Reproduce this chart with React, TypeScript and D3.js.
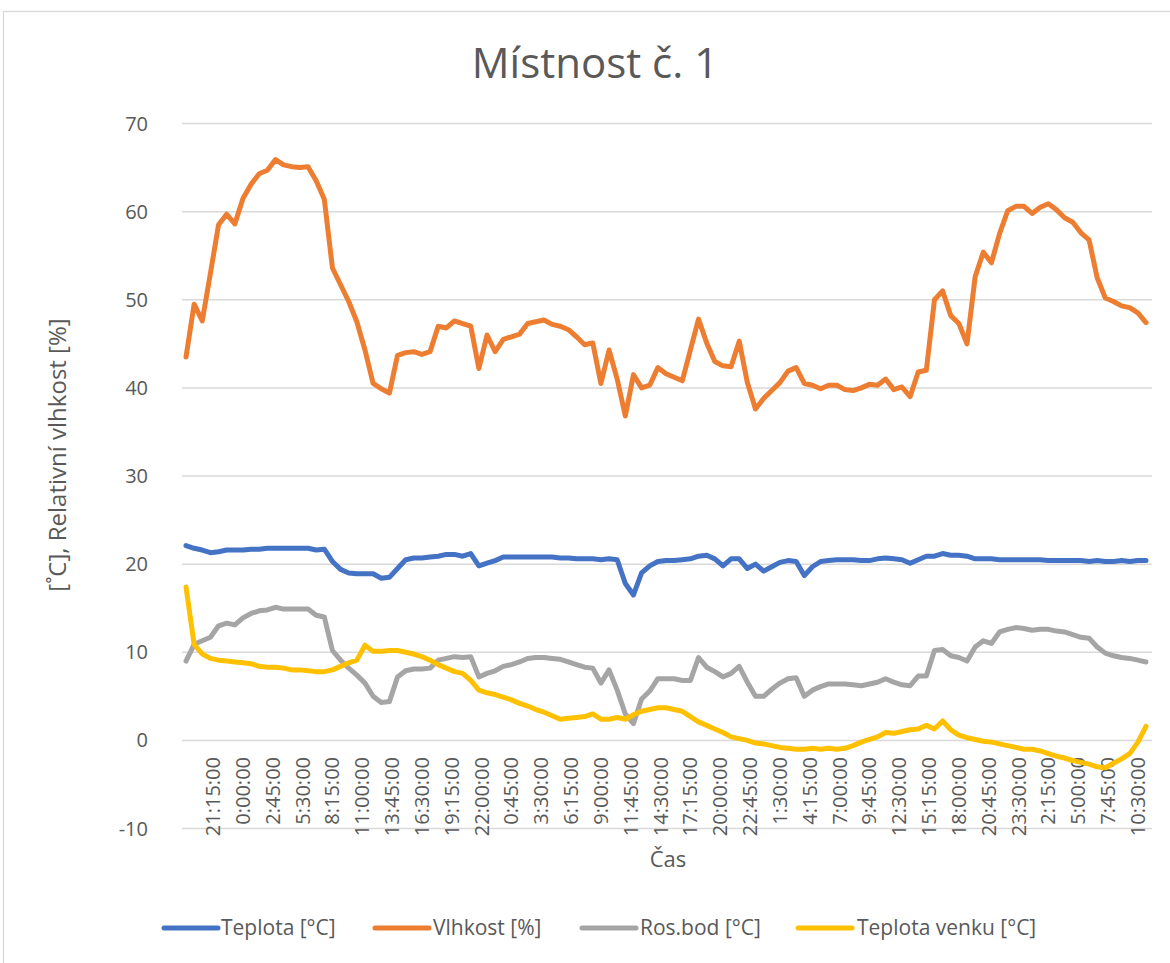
import React from 'react';
import * as d3 from 'd3';

// Series start 18:45, one reading every 45 minutes
const startTime = '18:45:00';
const stepMinutes = 45;

const tickLabels = [
  '21:15:00', '0:00:00', '2:45:00', '5:30:00', '8:15:00', '11:00:00', '13:45:00', '16:30:00',
  '19:15:00', '22:00:00', '0:45:00', '3:30:00', '6:15:00', '9:00:00', '11:45:00', '14:30:00',
  '17:15:00', '20:00:00', '22:45:00', '1:30:00', '4:15:00', '7:00:00', '9:45:00', '12:30:00',
  '15:15:00', '18:00:00', '20:45:00', '23:30:00', '2:15:00', '5:00:00', '7:45:00', '10:30:00',
];

const yTicks = [-10, 0, 10, 20, 30, 40, 50, 60, 70];

const teplota = [
  22.1, 21.8, 21.6, 21.3, 21.4, 21.6, 21.6, 21.6, 21.7, 21.7, 21.8, 21.8, 21.8, 21.8, 21.8, 21.8,
  21.6, 21.7, 20.3, 19.4, 19.0, 18.9, 18.9, 18.9, 18.4, 18.5, 19.5, 20.5, 20.7, 20.7, 20.8, 20.9,
  21.1, 21.1, 20.9, 21.2, 19.8, 20.1, 20.4, 20.8, 20.8, 20.8, 20.8, 20.8, 20.8, 20.8, 20.7, 20.7,
  20.6, 20.6, 20.6, 20.5, 20.6, 20.5, 17.8, 16.5, 19.0, 19.8, 20.3, 20.4, 20.4, 20.5, 20.6, 20.9,
  21.0, 20.6, 19.8, 20.6, 20.6, 19.5, 20.0, 19.2, 19.7, 20.2, 20.4, 20.3, 18.7, 19.7, 20.3, 20.4,
  20.5, 20.5, 20.5, 20.4, 20.4, 20.6, 20.7, 20.6, 20.5, 20.1, 20.5, 20.9, 20.9, 21.2, 21.0, 21.0,
  20.9, 20.6, 20.6, 20.6, 20.5, 20.5, 20.5, 20.5, 20.5, 20.5, 20.4, 20.4, 20.4, 20.4, 20.4, 20.3,
  20.4, 20.3, 20.3, 20.4, 20.3, 20.4, 20.4,
];

const vlhkost = [
  43.5, 49.5, 47.6, 53.0, 58.5, 59.7, 58.6, 61.5, 63.1, 64.3, 64.7, 65.9, 65.3, 65.1, 65.0, 65.1,
  63.5, 61.4, 53.6, 51.7, 49.8, 47.5, 44.3, 40.5, 39.9, 39.4, 43.7, 44.0, 44.1, 43.8, 44.1, 47.0,
  46.8, 47.6, 47.3, 47.0, 42.2, 46.0, 44.1, 45.5, 45.8, 46.1, 47.3, 47.5, 47.7, 47.2, 47.0, 46.6,
  45.8, 44.9, 45.1, 40.5, 44.3, 41.0, 36.8, 41.5, 40.0, 40.3, 42.3, 41.6, 41.2, 40.8, 44.3, 47.8,
  45.1, 43.0, 42.5, 42.4, 45.3, 40.6, 37.6, 38.8, 39.7, 40.6, 41.9, 42.3, 40.5, 40.3, 39.9, 40.3,
  40.3, 39.8, 39.7, 40.0, 40.4, 40.3, 41.0, 39.8, 40.1, 39.0, 41.8, 42.0, 50.0, 51.0, 48.2, 47.3,
  45.0, 52.6, 55.4, 54.2, 57.5, 60.1, 60.6, 60.6, 59.8, 60.5, 60.9, 60.2, 59.3, 58.8, 57.6, 56.8,
  52.5, 50.2, 49.8, 49.3, 49.1, 48.5, 47.4,
];

const rosBod = [
  9.0, 10.9, 11.3, 11.7, 13.0, 13.3, 13.1, 13.9, 14.4, 14.7, 14.8, 15.1, 14.9, 14.9, 14.9, 14.9,
  14.2, 14.0, 10.2, 9.1, 8.2, 7.4, 6.5, 5.0, 4.3, 4.4, 7.2, 7.9, 8.1, 8.1, 8.2, 9.1,
  9.3, 9.5, 9.4, 9.5, 7.2, 7.6, 7.9, 8.4, 8.6, 8.9, 9.3, 9.4, 9.4, 9.3, 9.2, 8.9,
  8.6, 8.3, 8.2, 6.5, 8.0, 5.7, 3.0, 1.9, 4.7, 5.6, 7.0, 7.0, 7.0, 6.8, 6.8, 9.4,
  8.3, 7.8, 7.2, 7.6, 8.4, 6.6, 5.0, 5.0, 5.8, 6.5, 7.0, 7.1, 5.0, 5.7, 6.1, 6.4,
  6.4, 6.4, 6.3, 6.2, 6.4, 6.6, 7.0, 6.6, 6.3, 6.2, 7.3, 7.3, 10.2, 10.3, 9.6, 9.4,
  9.0, 10.6, 11.3, 11.0, 12.3, 12.6, 12.8, 12.7, 12.5, 12.6, 12.6, 12.4, 12.3, 12.0, 11.7, 11.6,
  10.6, 9.9, 9.6, 9.4, 9.3, 9.1, 8.9,
];

const teplotaVenku = [
  17.4, 10.9, 9.8, 9.3, 9.1, 9.0, 8.9, 8.8, 8.7, 8.4, 8.3, 8.3, 8.2, 8.0, 8.0, 7.9,
  7.8, 7.8, 8.0, 8.4, 8.8, 9.1, 10.8, 10.1, 10.1, 10.2, 10.2, 10.0, 9.8, 9.5, 9.1, 8.6,
  8.2, 7.8, 7.6, 6.8, 5.7, 5.4, 5.2, 4.9, 4.6, 4.2, 3.9, 3.5, 3.2, 2.8, 2.4, 2.5,
  2.6, 2.7, 3.0, 2.4, 2.4, 2.6, 2.4, 2.9, 3.3, 3.5, 3.7, 3.7, 3.5, 3.3, 2.7, 2.1,
  1.7, 1.3, 0.9, 0.4, 0.2, 0.0, -0.3, -0.4, -0.6, -0.8, -0.9, -1.0, -1.0, -0.9, -1.0, -0.9,
  -1.0, -0.9, -0.6, -0.2, 0.1, 0.4, 0.9, 0.8, 1.0, 1.2, 1.3, 1.7, 1.3, 2.2, 1.2, 0.6,
  0.3, 0.1, -0.1, -0.2, -0.4, -0.6, -0.8, -1.0, -1.0, -1.2, -1.5, -1.8, -2.0, -2.3, -2.5, -2.7,
  -3.0, -3.1, -2.6, -2.1, -1.5, -0.2, 1.6,
];

const series = [
  { name: 'Teplota [°C]', values: teplota, color: '#4472C4' },
  { name: 'Vlhkost [%]', values: vlhkost, color: '#ED7D31' },
  { name: 'Ros.bod [°C]', values: rosBod, color: '#A5A5A5' },
  { name: 'Teplota venku [°C]', values: teplotaVenku, color: '#FFC000' },
];

const textColor = '#595959';
const gridColor = '#D9D9D9';
const font = '"Open Sans", sans-serif';

const toMinutes = (s: string) => {
  const [h, m] = s.split(':').map(Number);
  return h * 60 + m;
};

// minutes since series start, rolling over midnight
const labelOffsets = (() => {
  const start = toMinutes(startTime);
  let day = 0;
  let prev = -1;
  return tickLabels.map(l => {
    const m = toMinutes(l);
    if (prev >= 0 && m < prev) day += 1;
    prev = m;
    return m + day * 1440 - start;
  });
})();

const App: React.FC = () => {
  const width = 1170;
  const height = 963;
  const plot = { left: 182, right: 1152 };

  const lastMinute = (teplota.length - 1) * stepMinutes;
  const xScale = d3.scaleLinear().domain([0, lastMinute]).range([186, 1146]);
  const yScale = d3.scaleLinear().domain([-10, 70]).range([828.5, 123.5]);

  const line = d3.line<number>()
    .x((_, i) => xScale(i * stepMinutes))
    .y(d => yScale(d));

  const legendItems = [
    { lineX: 164, textX: 221 },
    { lineX: 375, textX: 433 },
    { lineX: 582, textX: 640 },
    { lineX: 798, textX: 857 },
  ];

  return (
    <svg width={width} height={height} style={{ position: 'absolute', left: 0, top: 0, background: '#fff' }}
      fontFamily={font}>
      <rect x={3.5} y={11.5} width={1200} height={1000} fill="#fff" stroke={gridColor} strokeWidth={1.3} />

      <text x={595} y={78} textAnchor="middle" fontSize={42} fill={textColor}>Místnost č. 1</text>

      {/* gridlines */}
      {yTicks.map(t => (
        <line key={t} x1={plot.left} x2={plot.right} y1={yScale(t)} y2={yScale(t)}
          stroke={gridColor} strokeWidth={1.5} />
      ))}

      {/* y tick labels */}
      {yTicks.map(t => (
        <text key={'y' + t} x={148} y={yScale(t)} dy="0.35em" textAnchor="end" fontSize={20} fill={textColor}>{t}</text>
      ))}

      {/* x tick labels */}
      {tickLabels.map((l, i) => (
        <text key={'x' + i} transform={`translate(${xScale(labelOffsets[i])},757) rotate(-90)`}
          dy="0.35em" textAnchor="end" fontSize={20} fill={textColor}>{l}</text>
      ))}

      <text transform="translate(58,455) rotate(-90)" dy="0.35em" textAnchor="middle" fontSize={24} fill={textColor}>
        [˚C], Relativní vlhkost [%]
      </text>
      <text x={668} y={867} textAnchor="middle" fontSize={22} fill={textColor}>Čas</text>

      {/* series */}
      {series.map(s => (
        <path key={s.name} d={line(s.values) ?? ''} fill="none" stroke={s.color} strokeWidth={5}
          strokeLinejoin="round" strokeLinecap="round" />
      ))}

      {/* legend */}
      {series.map((s, i) => (
        <g key={'lg' + i}>
          <line x1={legendItems[i].lineX} x2={legendItems[i].lineX + 54} y1={928} y2={928}
            stroke={s.color} strokeWidth={5} strokeLinecap="round" />
          <text x={legendItems[i].textX} y={928} dy="0.35em" fontSize={21} fill={textColor}>{s.name}</text>
        </g>
      ))}
    </svg>
  );
};

export default App;
